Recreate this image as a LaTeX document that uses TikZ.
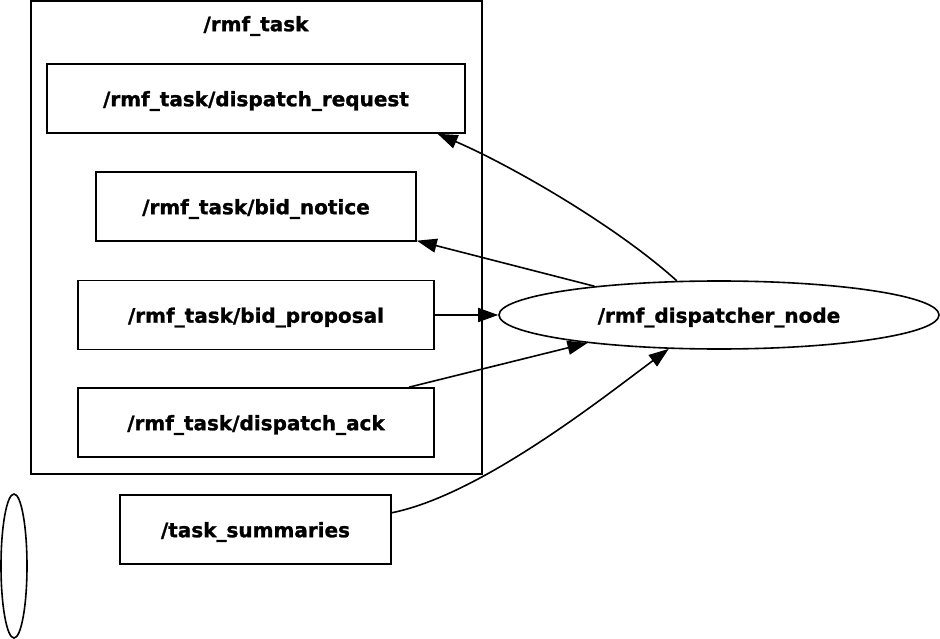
\documentclass[tikz,border=0pt]{standalone}
\usepackage{fontspec}
\setmainfont{DejaVu Sans}[BoldFeatures={FakeBold=1.2}]
\usetikzlibrary{arrows.meta,shapes.geometric}
\newcommand\lowr[1]{\raisebox{-2.5pt}[\height][\depth]{#1}}
\begin{document}
\begin{tikzpicture}[x=1pt,y=-1pt,
  every node/.style={font=\fontsize{20}{24}\selectfont\bfseries},
  topic/.style={draw,line width=1.6pt,rectangle,inner sep=0pt,minimum height=69pt},
  nodeell/.style={draw,line width=1.6pt,ellipse,inner sep=0pt},
  edge/.style={line width=1.6pt,-{Triangle[length=20pt,width=14pt]}}]
\useasboundingbox (0,0) rectangle (940,639);
\node[draw,line width=1.6pt,rectangle,minimum width=451pt,minimum height=473pt,inner sep=0pt] (cluster) at (256.5,237.5) {};
\node (clabel) at (256,26) {/rmf\_task};
\node[topic,minimum width=418pt] (req) at (256,98.5) {\lowr{/rmf\_task/dispatch\_request}};
\node[topic,minimum width=320pt] (notice) at (256,206.5) {\lowr{/rmf\_task/bid\_notice}};
\node[topic,minimum width=356pt] (prop) at (256,315) {\lowr{/rmf\_task/bid\_proposal}};
\node[topic,minimum width=356pt] (ack) at (256,422.5) {\lowr{/rmf\_task/dispatch\_ack}};
\node[topic,minimum width=271pt] (summ) at (255.5,529.5) {\lowr{/task\_summaries}};
\node[nodeell,minimum width=440pt,minimum height=68pt] (disp) at (719,315) {\lowr{/rmf\_dispatcher\_node}};
\node[nodeell,minimum width=26pt,minimum height=144pt] (empty) at (14,566) {};
\draw[edge] (disp.141) .. controls (615,225) and (510,165) .. (req.-11);
\draw[edge] (disp.167) -- (notice.-12.6);
\draw[edge] (prop.east) -- (disp.west);
\draw[edge] (ack.13) -- (disp.192);
\draw[edge] (summ.7.5) .. controls (480,495) and (600,400) .. (disp.214);
\end{tikzpicture}
\end{document}
